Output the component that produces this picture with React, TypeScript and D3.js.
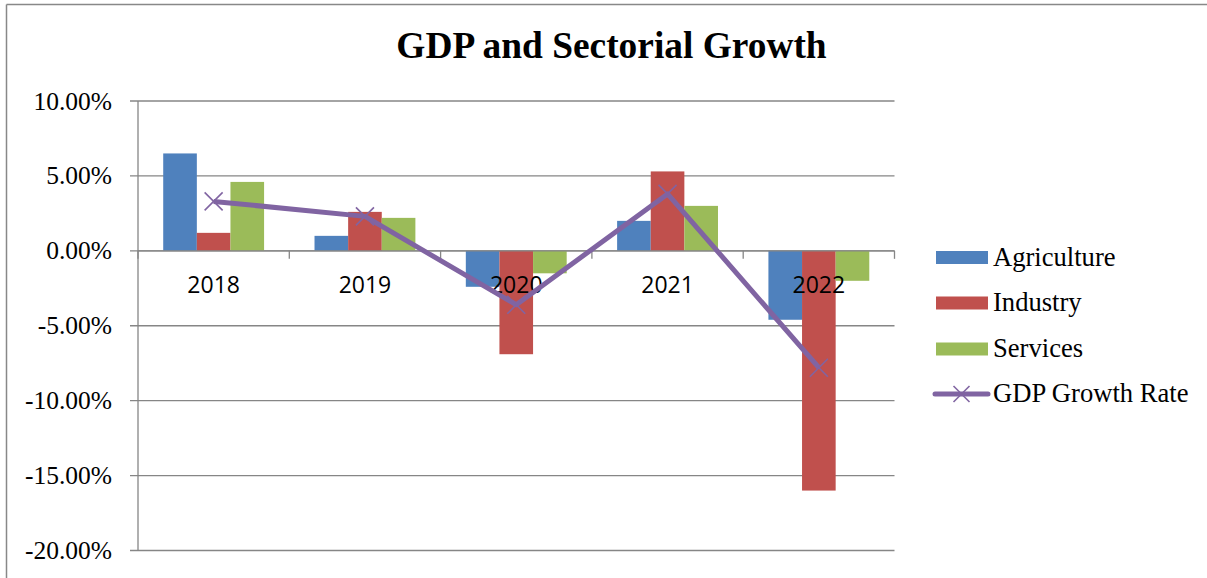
import React from "react";
import * as d3 from "d3";

const years = ["2018", "2019", "2020", "2021", "2022"];
const agriculture = [6.5, 1.0, -2.4, 2.0, -4.6];
const industry = [1.2, 2.6, -6.9, 5.3, -16.0];
const services = [4.6, 2.2, -1.5, 3.0, -2.0];
const gdpGrowth = [3.3, 2.3, -3.6, 3.8, -7.8];
const yTicks = [10, 5, 0, -5, -10, -15, -20];
const seriesNames = ["Agriculture", "Industry", "Services"];
const seriesColors = ["#4F81BD", "#C0504D", "#9BBB59"];
const lineName = "GDP Growth Rate";
const lineColor = "#8064A2";

const W = 1207;
const H = 578;
const left = 138;
const right = 894.5;
const top = 101;
const bottom = 550.5;

export default function App() {
  const x = d3.scaleBand<string>().domain(years).range([left, right]).paddingInner(0).paddingOuter(0);
  const bw = x.bandwidth();
  const sub = d3
    .scaleBand<string>()
    .domain(seriesNames)
    .range([0, bw])
    .paddingInner(0)
    .paddingOuter(0.75);
  const y = d3.scaleLinear().domain([-20, 10]).range([bottom, top]);
  const seriesData = [agriculture, industry, services];
  const fmt = (v: number) => v.toFixed(2) + "%";
  const line = d3
    .line<number>()
    .x((_, i) => (x(years[i]) as number) + bw / 2)
    .y((d) => y(d));
  const grid = "#868686";
  const boundaries = years.map((yr) => x(yr) as number).concat([right]);
  const mk = 9;
  const legendY = [257.5, 303, 349, 394];
  const serif = "'Liberation Serif', 'Times New Roman', serif";

  return (
    <svg width={W} height={H} style={{ position: "absolute", left: 0, top: 0, background: "#fff" }}>
      <rect x={0} y={0} width={W} height={H} fill="#fff" />
      {/* outer border */}
      <line x1={6.5} y1={4.5} x2={W} y2={4.5} stroke="#888" strokeWidth={1.5} />
      <line x1={6.5} y1={4.5} x2={6.5} y2={H} stroke="#888" strokeWidth={1.5} />
      <text x={611.5} y={58} textAnchor="middle" fontFamily={serif} fontWeight="bold" fontSize={37.4}>
        GDP and Sectorial Growth
      </text>
      {/* gridlines and y ticks */}
      {yTicks.map((t) => (
        <g key={t}>
          <line x1={130} x2={right} y1={y(t)} y2={y(t)} stroke={grid} strokeWidth={1.3} />
          <text x={112} y={y(t) + 8.5} textAnchor="end" fontFamily={serif} fontSize={25.5}>
            {fmt(t)}
          </text>
        </g>
      ))}
      {/* bars */}
      {seriesData.map((arr, si) =>
        arr.map((v, i) => {
          const bx = (x(years[i]) as number) + (sub(seriesNames[si]) as number);
          const y0 = y(0);
          const y1 = y(v);
          return (
            <rect
              key={si + "-" + i}
              x={bx}
              y={Math.min(y0, y1)}
              width={sub.bandwidth()}
              height={Math.abs(y1 - y0)}
              fill={seriesColors[si]}
            />
          );
        })
      )}
      {/* y axis */}
      <line x1={left} x2={left} y1={top} y2={bottom} stroke={grid} strokeWidth={1.3} />
      {/* x axis at zero */}
      <line x1={left} x2={right} y1={y(0)} y2={y(0)} stroke={grid} strokeWidth={1.3} />
      {boundaries.map((b, i) => (
        <line key={i} x1={b} x2={b} y1={y(0)} y2={y(0) + 8} stroke={grid} strokeWidth={1.3} />
      ))}
      {years.map((yr) => (
        <text key={yr} x={(x(yr) as number) + bw / 2} y={293} textAnchor="middle" fontFamily="'Open Sans', 'Noto Sans', sans-serif" fontSize={23}>
          {yr}
        </text>
      ))}
      {/* GDP line */}
      <path d={line(gdpGrowth) || ""} fill="none" stroke={lineColor} strokeWidth={5} strokeLinejoin="round" />
      {gdpGrowth.map((v, i) => {
        const cx = (x(years[i]) as number) + bw / 2;
        const cy = y(v);
        return (
          <g key={i} stroke={lineColor} strokeWidth={1.6}>
            <line x1={cx - mk} y1={cy - mk} x2={cx + mk} y2={cy + mk} />
            <line x1={cx - mk} y1={cy + mk} x2={cx + mk} y2={cy - mk} />
          </g>
        );
      })}
      {/* legend */}
      {seriesNames.map((n, i) => (
        <g key={n}>
          <rect x={936} y={legendY[i] - 6.5} width={52} height={13} fill={seriesColors[i]} />
          <text x={993} y={legendY[i] + 8} fontFamily={serif} fontSize={26.6}>
            {n}
          </text>
        </g>
      ))}
      <g>
        <line x1={935} x2={988} y1={legendY[3]} y2={legendY[3]} stroke={lineColor} strokeWidth={5} strokeLinecap="round" />
        <g stroke={lineColor} strokeWidth={1.6}>
          <line x1={961.5 - 8} y1={legendY[3] - 8} x2={961.5 + 8} y2={legendY[3] + 8} />
          <line x1={961.5 - 8} y1={legendY[3] + 8} x2={961.5 + 8} y2={legendY[3] - 8} />
        </g>
        <text x={993} y={legendY[3] + 8} fontFamily={serif} fontSize={26.6}>
          {lineName}
        </text>
      </g>
    </svg>
  );
}
